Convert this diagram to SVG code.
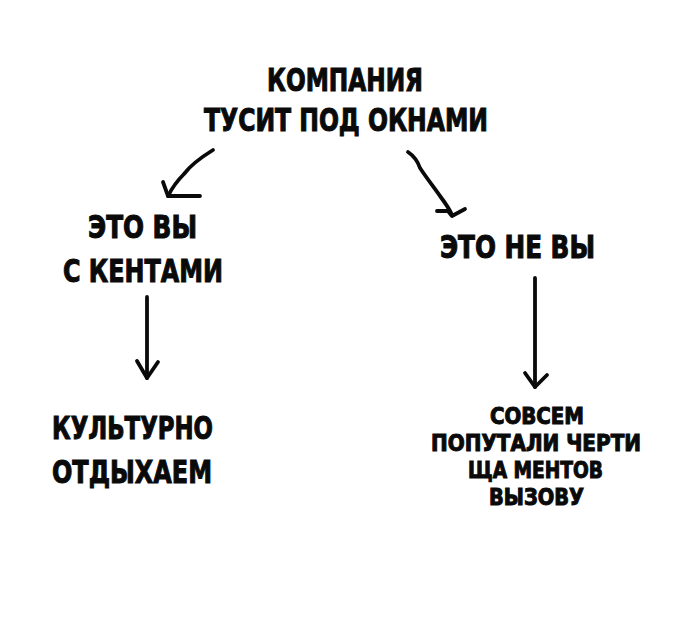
<svg xmlns="http://www.w3.org/2000/svg" width="700" height="634" viewBox="0 0 700 634">
<style>
.t{font-family:"Liberation Sans Narrow","DejaVu Sans Condensed","Liberation Sans",sans-serif;font-weight:bold;fill:#0a0a0a;stroke:#0a0a0a;stroke-width:1;stroke-linejoin:miter;}
.big{font-size:32px;}
.sm{font-size:23px;}
.c{fill:none;stroke:#0a0a0a;stroke-width:3.8;stroke-linecap:round;stroke-linejoin:round;}
</style>
<rect width="700" height="634" fill="#fff"/>
<g id="node-top">
<text class="t big" x="267" y="91" textLength="156" lengthAdjust="spacingAndGlyphs">КОМПАНИЯ</text>
<text class="t big" x="204" y="131" textLength="284" lengthAdjust="spacingAndGlyphs">ТУСИТ ПОД ОКНАМИ</text>
</g>
<g id="node-left">
<text class="t big" x="88" y="238" textLength="109" lengthAdjust="spacingAndGlyphs">ЭТО ВЫ</text>
<text class="t big" x="63" y="282" textLength="160" lengthAdjust="spacingAndGlyphs">С КЕНТАМИ</text>
</g>
<g id="node-right">
<text class="t big" x="440" y="258" textLength="155" lengthAdjust="spacingAndGlyphs">ЭТО НЕ ВЫ</text>
</g>
<g id="node-left-bottom">
<text class="t big" x="52" y="439" textLength="161" lengthAdjust="spacingAndGlyphs">КУЛЬТУРНО</text>
<text class="t big" x="52" y="483" textLength="160" lengthAdjust="spacingAndGlyphs">ОТДЫХАЕМ</text>
</g>
<g id="node-right-bottom">
<text class="t sm" x="490" y="424" textLength="94" lengthAdjust="spacingAndGlyphs">СОВСЕМ</text>
<text class="t sm" x="431" y="451" textLength="210" lengthAdjust="spacingAndGlyphs">ПОПУТАЛИ ЧЕРТИ</text>
<text class="t sm" x="468" y="478" textLength="135" lengthAdjust="spacingAndGlyphs">ЩА МЕНТОВ</text>
<text class="t sm" x="489" y="505" textLength="95" lengthAdjust="spacingAndGlyphs">ВЫЗОВУ</text>
</g>
<g id="connectors">
<path class="c" d="M213,150 C200,158 190,166 184,174 C176,182 172,188 168,196"/>
<path class="c" d="M163,182 L168,196 L200,196"/>
<path class="c" d="M408,152 C414,156 418,162 420,168 C428,180 436,190 440,196 C446,204 450,210 452,215"/>
<path class="c" d="M437,211 L448,211 L452,216 L465,209"/>
<path class="c" d="M147,297 L147,378"/>
<path class="c" d="M137,361 L147,378 L158,362"/>
<path class="c" d="M535,278 L535,387"/>
<path class="c" d="M525,373 L535,387 L547,375"/>
</g>
</svg>
